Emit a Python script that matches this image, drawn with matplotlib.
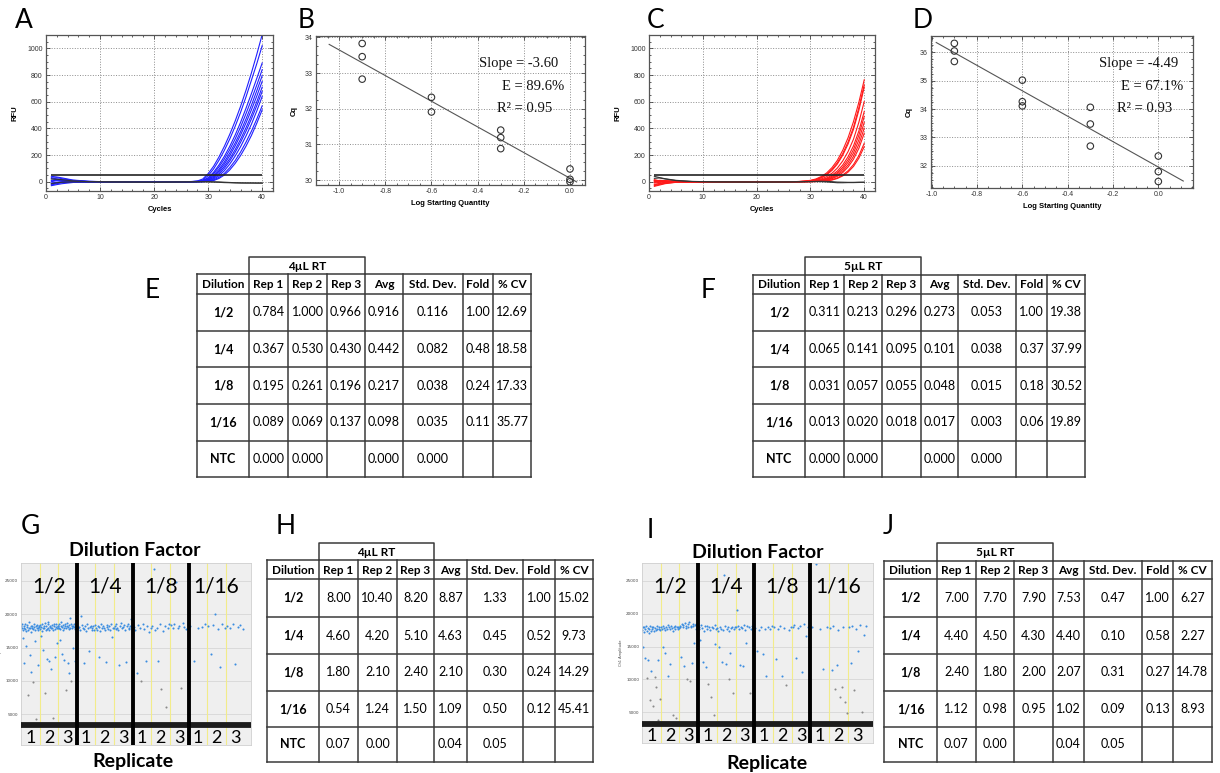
import matplotlib
matplotlib.use("Agg")
import matplotlib.pyplot as plt
from matplotlib.ticker import MultipleLocator
import numpy as np

# ---------------- data ----------------
# A / C : amplification curves (RFU at the listed cycles)
cycles = [1, 2, 3, 5, 8, 12, 20, 26, 28, 29, 30, 31, 32, 33, 34, 35, 36, 37, 38, 39, 40]
a_blue = [
    [40, 35, 28, 12, 3, -2, -4, -2, 5, 20, 60, 115, 185, 265, 355, 455, 565, 685, 815, 955, 1103],
    [-30, -22, -15, -6, -2, -1, -4, -2, 3, 12, 45, 95, 160, 235, 320, 415, 520, 635, 760, 885, 1020],
    [25, 30, 22, 10, 2, -2, -5, -2, 2, 8, 30, 70, 125, 190, 265, 350, 445, 550, 660, 775, 890],
    [-15, -8, -3, 0, -1, -2, -4, -1, 2, 6, 25, 60, 110, 170, 240, 320, 410, 510, 615, 725, 840],
    [10, 18, 15, 6, 0, -3, -5, -2, 1, 4, 18, 48, 92, 148, 215, 290, 375, 470, 572, 682, 795],
    [-25, -15, -8, -3, -2, -2, -4, -2, 0, 3, 14, 40, 80, 132, 195, 268, 350, 440, 538, 642, 752],
    [5, 12, 10, 4, -1, -3, -5, -1, 0, 2, 10, 32, 68, 115, 172, 240, 318, 404, 498, 600, 709],
    [30, 20, 12, 4, 0, -2, -4, -2, 0, 1, 7, 25, 56, 100, 155, 220, 295, 378, 470, 570, 677],
    [-10, -4, 0, 2, -1, -3, -5, -2, 0, 1, 5, 18, 44, 82, 132, 192, 262, 342, 430, 530, 639],
    [0, 8, 6, 3, -1, -2, -4, -1, 0, 0, 3, 12, 32, 62, 105, 158, 222, 296, 378, 470, 569],
    [-20, -10, -5, -1, -2, -3, -4, -2, 0, 0, 2, 8, 24, 50, 88, 137, 196, 266, 346, 438, 539],
]
a_ntc = [
    [20, 18, 14, 6, 0, -2, -4, -2, -1, 0, 0, -1, -2, -4, -6, -8, -9, -10, -10, -11, -11],
    [-15, -8, -4, -1, -1, -2, -3, -2, -1, -1, -2, -3, -5, -7, -8, -9, -10, -10, -10, -10, -10],
]
a_threshold = 50
c_red = [
    [10, 8, 6, 2, 0, -1, -3, -2, 2, 5, 10, 20, 38, 65, 105, 160, 235, 330, 450, 595, 764],
    [-30, -20, -12, -4, -2, -1, -3, -2, 1, 4, 8, 16, 32, 56, 92, 142, 210, 298, 408, 555, 727],
    [5, 10, 8, 3, 0, -2, -4, -1, 1, 3, 7, 14, 28, 50, 84, 132, 198, 283, 392, 535, 709],
    [-20, -15, -8, -2, -1, -2, -3, -2, 0, 2, 5, 10, 20, 37, 63, 102, 155, 226, 318, 445, 601],
    [15, 5, 0, -2, -1, -1, -3, -1, 0, 1, 3, 7, 14, 27, 48, 80, 125, 187, 268, 380, 526],
    [-35, -25, -15, -5, -2, -1, -4, -2, 0, 1, 2, 5, 11, 22, 40, 68, 108, 165, 240, 348, 489],
    [0, 5, 4, 1, 0, -2, -3, -1, 0, 0, 2, 4, 9, 18, 33, 58, 94, 146, 215, 313, 444],
    [-10, -5, -2, 0, -1, -2, -4, -2, 0, 0, 1, 3, 7, 14, 27, 48, 80, 126, 190, 280, 401],
    [8, 2, -2, -3, -1, -1, -3, -1, 0, 0, 1, 2, 5, 11, 22, 40, 68, 110, 168, 250, 363],
    [-25, -12, -6, -2, 0, -1, -3, -2, 0, 0, 0, 1, 3, 7, 15, 28, 50, 82, 128, 195, 288],
    [-5, 0, 2, 1, 0, -1, -3, -1, 0, 0, 0, 1, 2, 6, 12, 24, 43, 72, 114, 176, 263],
]
c_ntc = [
    [40, 30, 22, 10, 2, -1, -3, -2, -1, 0, 0, 1, 0, -2, -5, -8, -8, -7, -7, -6, -5],
    [25, 28, 20, 8, 1, -2, -3, -2, -1, 0, 1, 2, 3, 2, 0, -3, -4, -5, -5, -4, -4],
]
c_threshold = 50

# B / D : standard curves
b_logq = [-0.9, -0.9, -0.9, -0.6, -0.6, -0.3, -0.3, -0.3, 0.0, 0.0, 0.0]
b_cq = [33.83, 33.46, 32.83, 32.32, 31.91, 31.40, 31.19, 30.88, 30.31, 30.02, 29.95]
b_slope, b_intercept = -3.60, 30.05
b_fit_range = [-1.043, 0.029]
b_stats = ["Slope = -3.60", "E = 89.6%", "R² = 0.95"]

d_logq = [-0.9, -0.9, -0.9, -0.6, -0.6, -0.6, -0.3, -0.3, -0.3, 0.0, 0.0, 0.0]
d_cq = [36.32, 36.05, 35.68, 35.02, 34.26, 34.11, 34.06, 33.47, 32.69, 32.34, 31.79, 31.44]
d_slope, d_intercept = -4.49, 31.95
d_fit_range = [-0.98, 0.11]
d_stats = ["Slope = -4.49", "E = 67.1%", "R² = 0.93"]

# tables
table_header = ["Dilution", "Rep 1", "Rep 2", "Rep 3", "Avg", "Std. Dev.", "Fold", "% CV"]
dilutions = ["1/2", "1/4", "1/8", "1/16", "NTC"]
e_values = [
    ["0.784", "1.000", "0.966", "0.916", "0.116", "1.00", "12.69"],
    ["0.367", "0.530", "0.430", "0.442", "0.082", "0.48", "18.58"],
    ["0.195", "0.261", "0.196", "0.217", "0.038", "0.24", "17.33"],
    ["0.089", "0.069", "0.137", "0.098", "0.035", "0.11", "35.77"],
    ["0.000", "0.000", "", "0.000", "0.000", "", ""],
]
f_values = [
    ["0.311", "0.213", "0.296", "0.273", "0.053", "1.00", "19.38"],
    ["0.065", "0.141", "0.095", "0.101", "0.038", "0.37", "37.99"],
    ["0.031", "0.057", "0.055", "0.048", "0.015", "0.18", "30.52"],
    ["0.013", "0.020", "0.018", "0.017", "0.003", "0.06", "19.89"],
    ["0.000", "0.000", "", "0.000", "0.000", "", ""],
]
h_values = [
    ["8.00", "10.40", "8.20", "8.87", "1.33", "1.00", "15.02"],
    ["4.60", "4.20", "5.10", "4.63", "0.45", "0.52", "9.73"],
    ["1.80", "2.10", "2.40", "2.10", "0.30", "0.24", "14.29"],
    ["0.54", "1.24", "1.50", "1.09", "0.50", "0.12", "45.41"],
    ["0.07", "0.00", "", "0.04", "0.05", "", ""],
]
j_values = [
    ["7.00", "7.70", "7.90", "7.53", "0.47", "1.00", "6.27"],
    ["4.40", "4.50", "4.30", "4.40", "0.10", "0.58", "2.27"],
    ["2.40", "1.80", "2.00", "2.07", "0.31", "0.27", "14.78"],
    ["1.12", "0.98", "0.95", "1.02", "0.09", "0.13", "8.93"],
    ["0.07", "0.00", "", "0.04", "0.05", "", ""],
]

# G / I : droplet amplitudes (x1000), one list per well, in event order
dil_groups = ["1/2", "1/4", "1/8", "1/16"]
replicates = ["1", "2", "3"]
g_wells = [
    [18.2, 17.9, 18.5, 16.5, 17.6, 18.0, 18.3, 12.7, 17.8, 18.6, 17.5, 15.2, 18.1, 18.4, 7.9, 17.7, 18.0, 18.8, 13.8, 17.9,
     18.2, 17.4, 11.3, 18.3, 18.0, 9.8, 17.8, 18.5, 18.1, 16.0, 17.6, 18.2, 4.2, 17.9, 18.4, 18.0, 12.4, 17.7, 18.3, 18.1],
    [17.8, 18.4, 16.8, 18.1, 17.5, 18.6, 18.0, 14.6, 17.9, 18.3, 18.7, 8.1, 17.6, 18.2, 17.8, 13.3, 18.5, 18.0, 18.9, 12.9,
     17.7, 18.3, 18.1, 11.8, 17.9, 18.4, 18.0, 4.4, 17.6, 18.2, 18.5, 13.5, 17.8, 18.1, 18.6, 15.7, 17.9, 18.3, 18.0],
    [18.3, 18.0, 18.6, 16.2, 17.8, 18.2, 18.9, 14.0, 18.1, 17.7, 18.4, 13.1, 18.0, 18.5, 18.2, 8.6, 17.9, 18.7, 18.3, 12.6,
     18.1, 17.8, 18.4, 11.1, 19.5, 18.0, 18.6, 9.9, 18.2, 17.9, 18.3, 15.0, 18.1, 18.5, 17.8, 12.9, 18.2, 18.4, 18.0],
    [18.3, 17.9, 18.1, 17.6, 19.8, 18.4, 18.0, 17.8, 12.6, 18.2, 17.5, 18.5, 17.9, 14.5, 18.1, 18.3, 17.7, 18.0, 18.2, 17.6, 18.4],
    [18.0, 17.7, 18.3, 18.1, 13.6, 17.5, 18.6, 17.9, 18.2, 18.0, 17.6, 12.8, 18.4, 18.1, 17.8, 18.3, 17.7, 18.5, 16.6, 18.0, 17.9],
    [18.2, 17.8, 18.5, 18.0, 17.6, 12.3, 18.3, 18.7, 17.9, 18.1, 18.4, 17.7, 12.8, 18.2, 18.6, 18.0, 17.8, 18.3, 19.3, 18.1],
    [18.1, 17.6, 11.2, 18.4, 17.9, 10.0, 18.6, 17.8, 13.0, 18.2, 17.3, 18.0],
    [18.3, 26.8, 17.7, 18.0, 12.9, 18.5, 8.8, 17.5, 18.2, 6.1, 17.9, 18.6],
    [18.4, 18.0, 18.6, 24.8, 17.9, 18.2, 8.9, 18.7, 18.1, 17.8, 18.5],
    [18.3, 12.9, 17.9, 18.1, 18.5],
    [18.2, 14.1, 18.4, 20.0, 17.8, 12.1, 18.6, 18.0],
    [18.3, 17.9, 18.5, 12.5, 18.1, 18.4, 17.8],
]
g_negative = 3.4
i_wells = [
    [17.5, 18.0, 15.0, 17.2, 17.9, 13.2, 17.6, 18.1, 10.3, 17.3, 17.8, 12.9, 17.0, 17.7, 6.9, 18.2, 17.4, 11.3,
     17.9, 17.6, 5.9, 18.0, 17.3, 10.4, 17.8, 17.5, 8.8, 18.1, 17.7, 13.0, 3.8, 17.6, 17.9, 7.0, 17.5],
    [17.9, 17.6, 18.2, 15.0, 17.8, 17.5, 14.1, 18.0, 17.7, 10.5, 18.3, 17.9, 17.6, 12.3, 18.1, 17.8, 4.6, 17.4,
     18.0, 17.7, 18.2, 4.1, 17.9, 17.6, 18.0, 17.8],
    [18.2, 18.0, 13.4, 18.5, 17.9, 18.3, 12.0, 18.6, 18.1, 17.8, 10.1, 18.4, 18.0, 18.7, 9.8, 18.2, 17.9, 12.5,
     18.5, 18.1, 15.5, 18.3, 17.7, 18.4, 18.0, 18.2],
    [18.0, 17.6, 16.0, 18.3, 17.8, 12.7, 17.4, 18.1, 11.9, 17.7, 18.2, 9.3, 17.9, 17.5, 7.4, 18.0, 17.8, 4.6, 18.3, 15.4, 17.6],
    [17.8, 17.4, 15.0, 18.0, 17.7, 12.6, 17.5, 25.9, 18.1, 12.3, 17.6, 17.9, 10.0, 17.3, 14.0, 17.8, 18.0, 8.0, 17.6, 17.9],
    [17.9, 20.5, 18.2, 17.6, 12.2, 18.0, 17.8, 12.0, 18.3, 17.5, 15.5, 18.1, 17.9, 7.9, 17.7, 18.2, 18.0, 17.4],
    [17.8, 14.4, 17.5, 18.0, 13.8, 17.6, 10.6, 17.9, 17.7, 18.1],
    [17.9, 13.1, 17.6, 18.1, 10.6, 17.8, 9.1, 17.5, 18.0],
    [18.0, 18.3, 13.3, 17.8, 18.2, 11.2, 18.4, 16.6, 17.9, 18.1],
    [18.0, 27.5, 17.6, 11.6, 17.9],
    [17.8, 11.5, 18.1, 8.6, 12.2, 17.5, 7.3, 8.8, 17.9, 6.6, 4.9],
    [17.9, 12.5, 18.2, 8.4, 17.7, 14.4, 18.3, 5.0, 16.7, 18.1],
]
i_negative = 3.3
droplet_threshold = 10.5

# ---------------- figure ----------------
W, H = 1220, 773
fig = plt.figure(figsize=(W / 100, H / 100), dpi=100)
LATO = ["Lato", "DejaVu Sans"]
SANS = ["Liberation Sans", "DejaVu Sans"]
SERIF = ["Liberation Serif", "DejaVu Serif"]

# overlay in pixel coordinates for letters, tables and free text
ov = fig.add_axes([0, 0, 1, 1])
ov.set_xlim(0, W)
ov.set_ylim(H, 0)
ov.axis("off")
ov.set_zorder(10)


def box(l, r, t, b):
    return [l / W, 1 - b / H, (r - l) / W, (b - t) / H]


def style_cfx(ax):
    ax.grid(True, which="major", ls=":", lw=0.7, color="#8c8c8c")
    ax.tick_params(which="both", direction="in", top=True, right=True,
                   labelsize=5, labelcolor="#333333", color="#444444", width=0.6, pad=2.5)
    ax.tick_params(which="major", length=3)
    ax.tick_params(which="minor", length=1.6)
    for s in ax.spines.values():
        s.set_color("#555555")
        s.set_linewidth(0.9)
    for lab in ax.get_xticklabels() + ax.get_yticklabels():
        lab.set_family(SANS)


def amp_panel(ax, curves, ntc, thr, color):
    for cv in curves:
        ax.plot(cycles, cv, color=color, lw=0.8)
    for cv in ntc:
        ax.plot(cycles, cv, color="#333333", lw=0.8)
    ax.hlines(thr, cycles[0], cycles[-1], color="#222222", lw=1.2)
    ax.set_xlim(0, 42)
    ax.set_ylim(-70, 1100)
    ax.xaxis.set_major_locator(MultipleLocator(10))
    ax.xaxis.set_minor_locator(MultipleLocator(2))
    ax.yaxis.set_major_locator(MultipleLocator(200))
    ax.yaxis.set_minor_locator(MultipleLocator(50))
    ax.set_xlabel("Cycles", fontsize=5.5, fontweight="bold", family=SANS, labelpad=3)
    ax.set_ylabel("RFU", fontsize=5.5, fontweight="bold", family=SANS, labelpad=6)
    style_cfx(ax)


def std_panel(ax, lq, cq, slope, icpt, rng, ylim, yticks):
    ax.scatter(lq, cq, s=22, facecolors="none", edgecolors="#333333", linewidths=0.8, zorder=3)
    xs = np.array(rng)
    ax.plot(xs, slope * xs + icpt, color="#555555", lw=0.8)
    ax.set_ylim(*ylim)
    ax.set_yticks(yticks)
    ax.xaxis.set_major_locator(MultipleLocator(0.2))
    ax.xaxis.set_minor_locator(MultipleLocator(0.05))
    ax.yaxis.set_minor_locator(MultipleLocator(0.25))
    ax.xaxis.set_major_formatter(plt.FuncFormatter(lambda v, p: f"{v:.1f}"))
    ax.set_xlabel("Log Starting Quantity", fontsize=5.5, fontweight="bold", family=SANS, labelpad=3)
    ax.set_ylabel("Cq", fontsize=5.5, fontweight="bold", family=SANS, labelpad=5)
    style_cfx(ax)


axA = fig.add_axes(box(46, 273, 35, 191))
amp_panel(axA, a_blue, a_ntc, a_threshold, "#1f1fff")
axC = fig.add_axes(box(649, 875, 35, 191))
amp_panel(axC, c_red, c_ntc, c_threshold, "#ff1a1a")

axB = fig.add_axes(box(316, 585, 36, 185))
std_panel(axB, b_logq, b_cq, b_slope, b_intercept, b_fit_range, (29.86, 34.04), [30, 31, 32, 33, 34])
axB.set_xlim(-1.10, 0.065)
axD = fig.add_axes(box(931, 1193, 36, 188))
std_panel(axD, d_logq, d_cq, d_slope, d_intercept, d_fit_range, (31.21, 36.58), [32, 33, 34, 35, 36])
axD.set_xlim(-1.003, 0.153)

for stats, xs_ in ((b_stats, (479, 502, 497)), (d_stats, (1099, 1121, 1117))):
    for s, x, y in zip(stats, xs_, (63, 87, 108)):
        ov.text(x, y, s, fontsize=10.5, family=SERIF, ha="left", va="center", color="#111111")


def droplet_panel(ax, wells, neg):
    ax.set_facecolor("#efefef")
    n = len(wells)
    ax.set_xlim(0, n + 0.35)
    ax.set_ylim(0.35, 27.7)
    for k in range(1, n):
        if k % 3:
            ax.axvline(k, color="#f2ec8a", lw=0.8, zorder=1)
    for yv in (5, 10, 15, 20, 25):
        ax.axhline(yv, color="#d6d6d6", lw=0.6, zorder=0.5)
    for i, amps in enumerate(wells):
        amps = np.array(amps)
        xs = i + (np.arange(len(amps)) + 0.5) / len(amps)
        pos = amps >= droplet_threshold
        ax.plot(xs[pos], amps[pos], ls="none", marker="o", ms=1.5, mew=0,
                color="#3b8de0", zorder=2)
        ax.plot(xs[~pos], amps[~pos], ls="none", marker="o", ms=1.5, mew=0,
                color="#8a8a8a", zorder=2)
    ax.axhline(neg, color="#1c1c1c", lw=4.2, zorder=3)
    for k in range(3, n, 3):
        ax.axvline(k, color="black", lw=2.8, zorder=4)
    ax.set_xticks([])
    ax.set_yticks([5, 10, 15, 20, 25])
    ax.set_yticklabels(["5000", "10000", "15000", "20000", "25000"])
    ax.tick_params(axis="y", length=0, labelsize=3, labelcolor="#444444", pad=2)
    ax.set_ylabel("Ch1 Amplitude", fontsize=2.5, color="#444444", labelpad=2)
    for s in ax.spines.values():
        s.set_color("#cfcfcf")
        s.set_linewidth(0.6)
    for gi, g in enumerate(dil_groups):
        ax.text(gi * 3 + 1.5, 0.87, g, transform=ax.get_xaxis_transform(),
                ha="center", va="center", fontsize=15, family=LATO, zorder=5)
        for ri, r in enumerate(replicates):
            ax.text(gi * 3 + ri + 0.5, 0.04, r, transform=ax.get_xaxis_transform(),
                    ha="center", va="center", fontsize=13, family=LATO, zorder=5)


axG = fig.add_axes(box(21, 251, 563, 745))
droplet_panel(axG, g_wells, g_negative)
axI = fig.add_axes(box(642, 873, 563, 743))
droplet_panel(axI, i_wells, i_negative)

for x, y, t in ((135, 550, "Dilution Factor"), (758, 552, "Dilution Factor"),
                (133, 762, "Replicate"), (767, 763, "Replicate")):
    ov.text(x, y, t, fontsize=14, fontweight="bold", family=LATO, ha="center", va="center")


def draw_table(xs, ys, rt_label, values):
    lc, lw = "#3a3a3a", 1.1
    ov.plot([xs[1], xs[1], xs[4], xs[4]], [ys[1], ys[0], ys[0], ys[1]], color=lc, lw=lw)
    for y in ys[1:]:
        ov.plot([xs[0], xs[-1]], [y, y], color=lc, lw=lw)
    for x in xs:
        ov.plot([x, x], [ys[1], ys[-1]], color=lc, lw=lw)
    ov.text((xs[1] + xs[4]) / 2, (ys[0] + ys[1]) / 2 + 0.5, rt_label, ha="center", va="center",
            fontsize=8.5, fontweight="bold", family=LATO)
    for j, h in enumerate(table_header):
        ov.text((xs[j] + xs[j + 1]) / 2, (ys[1] + ys[2]) / 2 + 0.5, h, ha="center", va="center",
                fontsize=8.5, fontweight="bold", family=LATO)
    for i, (d, row) in enumerate(zip(dilutions, values)):
        yc = (ys[i + 2] + ys[i + 3]) / 2
        ov.text((xs[0] + xs[1]) / 2, yc, d, ha="center", va="center",
                fontsize=9, fontweight="bold", family=LATO)
        for j, v in enumerate(row):
            ov.text((xs[j + 1] + xs[j + 2]) / 2, yc, v, ha="center", va="center",
                    fontsize=9, family=LATO)


draw_table([197, 249, 288, 327, 365, 403, 463, 493, 531], [257, 274, 294, 331, 367, 404, 441, 477], "4µL RT", e_values)
draw_table([753, 805, 844, 882, 921, 958, 1016, 1047, 1085], [257, 275, 294, 331, 367, 404, 441, 477], "5µL RT", f_values)
draw_table([267, 319, 358, 397, 434, 467, 523, 555, 593], [543, 560, 579, 617, 654, 691, 727, 762], "4µL RT", h_values)
draw_table([884, 937, 976, 1014, 1053, 1084, 1142, 1173, 1212], [543, 561, 579, 617, 654, 691, 727, 762], "5µL RT", j_values)

for t, x, y in (("A", 24, 21), ("B", 306, 21), ("C", 656, 21), ("D", 923, 21),
                ("E", 152, 291), ("F", 708, 291), ("G", 30, 526), ("H", 286, 526),
                ("I", 650, 530), ("J", 888, 526)):
    ov.text(x, y, t, fontsize=19, family=LATO, ha="center", va="center")

fig.savefig("out.png", dpi=100)
